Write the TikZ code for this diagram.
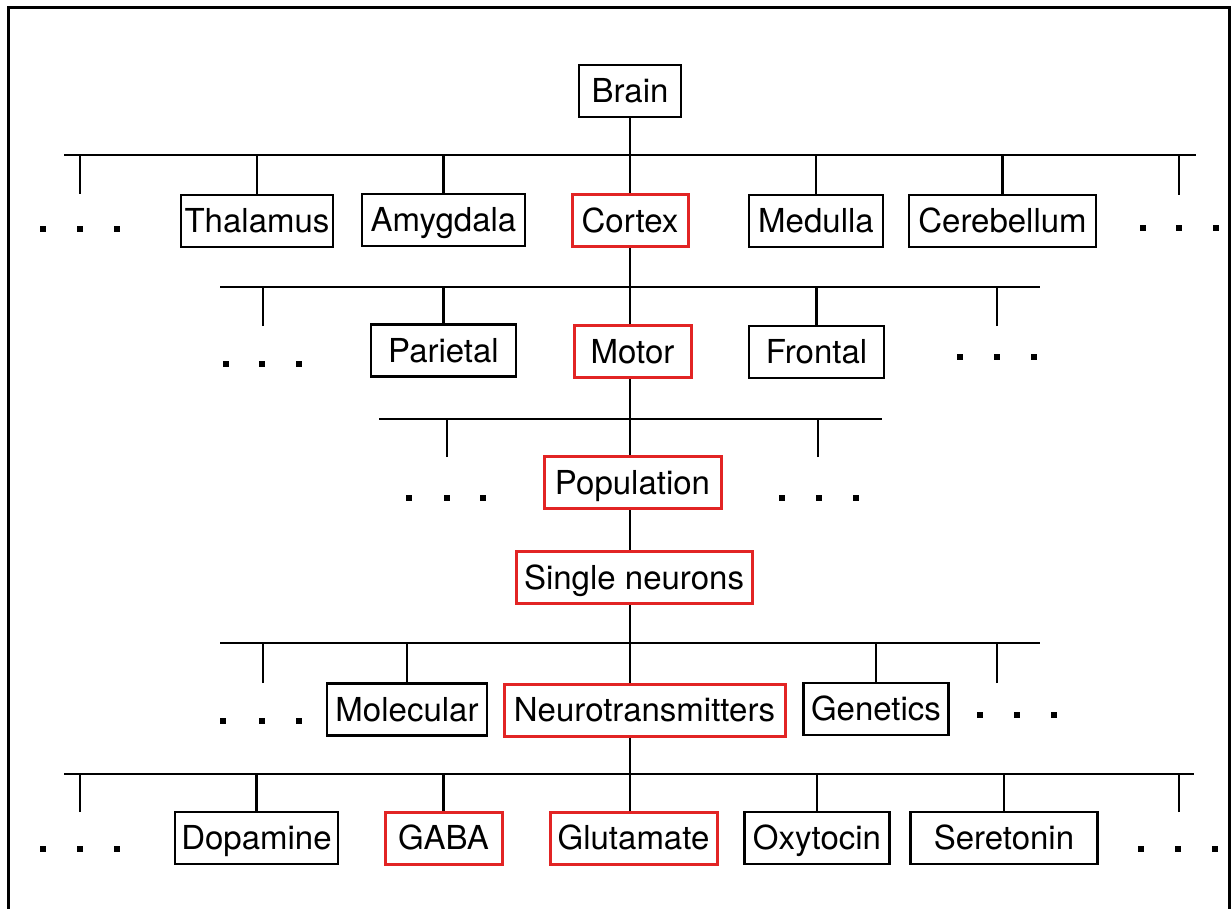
\documentclass[tikz,border=0pt]{standalone}
\usepackage{fontspec}
\setmainfont{TeX Gyre Heros}
\definecolor{hl}{RGB}{226,36,36}
\tikzset{
 box/.style={draw=black, line width=2.5pt, inner sep=0pt, font=\fontsize{33}{39}\selectfont, text height=23.5pt, text depth=0pt, minimum height=52pt},
 hbox/.style={box, draw=hl, line width=3pt},
 link/.style={line width=2.3pt},
 frameline/.style={line width=3pt}
}
\newcommand\dotrow[2]{\foreach \xx in {#1}{\fill (\xx-2.6,#2-2.6) rectangle (\xx+2.6,#2+2.6);}}
\begin{document}
\begin{tikzpicture}[x=1pt,y=-1pt]
\useasboundingbox (0,0) rectangle (1231,909);
\draw[frameline] (8,912) -- (8,8) -- (1229,8) -- (1229,912);

% nodes
\node[box, minimum width=102pt] (brain) at (630,91) {Brain};
\node[box, minimum width=152pt] (thal) at (257,221) {Thalamus};
\node[box, minimum width=163pt] (amyg) at (443.5,220) {Amygdala};
\node[hbox, minimum width=116pt] (cortex) at (630,221) {Cortex};
\node[box, minimum width=134pt] (medulla) at (816,221) {Medulla};
\node[box, minimum width=187pt] (cereb) at (1002.5,221) {Cerebellum};

\node[box, minimum width=145pt] (pariet) at (443.5,350.5) {Parietal};
\node[hbox, minimum width=117pt] (motor) at (632.5,351.5) {Motor};
\node[box, minimum width=135pt] (frontal) at (816.5,352) {Frontal};

\node[hbox, minimum width=177pt] (pop) at (632.5,482.5) {Population};
\node[hbox, minimum width=236pt] (single) at (634,577.5) {Single neurons};

\node[box, minimum width=160pt] (molec) at (407,709.5) {Molecular};
\node[hbox, minimum width=281pt] (neuro) at (644.5,710) {Neurotransmitters};
\node[box, minimum width=145pt] (genet) at (876,709) {Genetics};

\node[box, minimum width=163pt] (dopa) at (256.5,838) {Dopamine};
\node[hbox, minimum width=117pt] (gaba) at (443.5,838) {GABA};
\node[hbox, minimum width=167pt] (glut) at (633.5,838) {Glutamate};
\node[box, minimum width=145pt] (oxy) at (817,838) {Oxytocin};
\node[box, minimum width=187pt] (seret) at (1004,838) {Seretonin};

% coordinates
\coordinate (t) at (630,0);
\coordinate (b1l) at (64,155);   \coordinate (b1r) at (1196,155);
\coordinate (b2l) at (220,287);  \coordinate (b2r) at (1040,287);
\coordinate (b3l) at (379,419);  \coordinate (b3r) at (882,419);
\coordinate (b4l) at (220,643);  \coordinate (b4r) at (1040,643);
\coordinate (b5l) at (64,774);   \coordinate (b5r) at (1194,774);
\coordinate (e1l) at (80,194);   \coordinate (e1r) at (1179,195);
\coordinate (e2l) at (263,326);  \coordinate (e2r) at (997,326);
\coordinate (e3l) at (447,457);  \coordinate (e3r) at (818,457);
\coordinate (e4l) at (263,683);  \coordinate (e4r) at (997,683);
\coordinate (e5l) at (80,812);   \coordinate (e5r) at (1179,812);

% bars
\draw[link] (b1l) -- (b1r);
\draw[link] (b2l) -- (b2r);
\draw[link] (b3l) -- (b3r);
\draw[link] (b4l) -- (b4r);
\draw[link] (b5l) -- (b5r);

% trunk
\draw[link] (brain.south) -- (cortex.north);
\draw[link] (cortex.south) -- (motor.north -| t);
\draw[link] (motor.south -| t) -- (pop.north -| t);
\draw[link] (pop.south -| t) -- (single.north -| t);
\draw[link] (single.south -| t) -- (neuro.north -| t);
\draw[link] (neuro.south -| t) -- (glut.north -| t);

% child ticks
\foreach \n/\b in {thal/b1l, amyg/b1l, medulla/b1l, cereb/b1l,
                   pariet/b2l, frontal/b2l,
                   molec/b4l, genet/b4l,
                   dopa/b5l, gaba/b5l, oxy/b5l, seret/b5l}
  {\draw[link] (\n.north) -- (\n.north |- \b);}

% open ticks
\foreach \e/\b in {e1l/b1l, e1r/b1l, e2l/b2l, e2r/b2l, e3l/b3l, e3r/b3l, e4l/b4l, e4r/b4l, e5l/b5l, e5r/b5l}
  {\draw[link] (\e) -- (\e |- \b);}

% ellipsis dots
\dotrow{43,80,117}{229}
\dotrow{1143,1179,1216}{228}
\dotrow{226,262,299}{364}
\dotrow{960,997,1034}{357}
\dotrow{409,447,483}{498}
\dotrow{782,819,856}{498}
\dotrow{223,262,299}{721}
\dotrow{980,1017,1054}{715}
\dotrow{43,80,117}{849}
\dotrow{1141,1178,1215}{849}
\end{tikzpicture}
\end{document}
